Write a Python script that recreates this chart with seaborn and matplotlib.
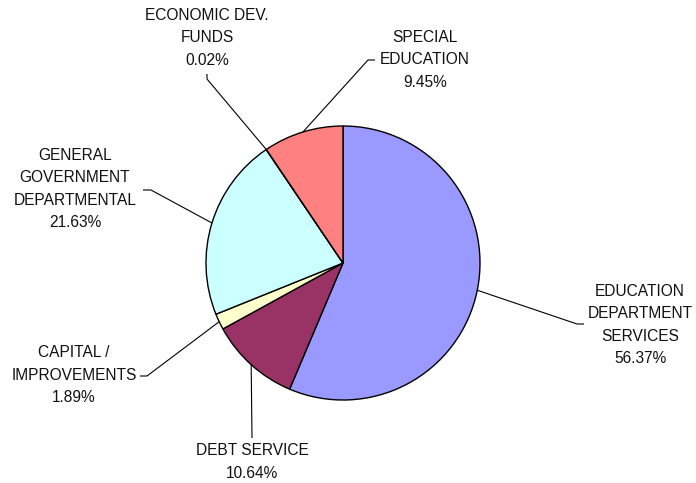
import numpy as np
import matplotlib
matplotlib.use("Agg")
import matplotlib.pyplot as plt
import seaborn as sns

# ---- data ----
categories = ["EDUCATION\nDEPARTMENT\nSERVICES", "DEBT SERVICE", "CAPITAL /\nIMPROVEMENTS",
              "GENERAL\nGOVERNMENT\nDEPARTMENTAL", "ECONOMIC DEV.\nFUNDS", "SPECIAL\nEDUCATION"]
shares = [56.37, 10.64, 1.89, 21.63, 0.02, 9.45]
colors = ["#9999FF", "#993366", "#FFFFCC", "#CCFFFF", "#3366CC", "#FF8080"]

# ---- layout (pixel space) ----
W, H = 696, 483
center = (343, 263)
radius = 137
# text center, elbow point, end of leader (all in pixels)
label_layout = [
    ((640, 325), (577, 324), (584, 324)),
    ((252, 462), (252, 438), (252, 438)),
    ((74, 375), (147, 376), (140, 376)),
    ((75, 189), (151, 190), (143, 190)),
    ((207, 38), (207, 79), (207, 74)),
    ((425, 60), (368, 60), (375, 60)),
]

sns.set_style("white")
plt.rcParams["font.family"] = ["Liberation Sans", "DejaVu Sans"]

fig = plt.figure(figsize=(W / 100, H / 100), dpi=100)
ax = fig.add_axes([0, 0, 1, 1])
ax.set_xlim(0, W)
ax.set_ylim(H, 0)
ax.set_aspect("equal")
ax.axis("off")

wedges, _ = ax.pie(shares, colors=colors, startangle=-90, counterclock=True,
                   center=center, radius=radius,
                   wedgeprops=dict(edgecolor="black", linewidth=1.0))
ax.set_xlim(0, W)
ax.set_ylim(H, 0)

for w, cat, val, (tpos, elbow, end) in zip(wedges, categories, shares, label_layout):
    mid = np.deg2rad((w.theta1 + w.theta2) / 2)
    ax_pt = (center[0] + radius * np.cos(mid), center[1] + radius * np.sin(mid))
    ax.plot([ax_pt[0], elbow[0], end[0]], [ax_pt[1], elbow[1], end[1]],
            color="black", lw=0.8, solid_capstyle="butt")
    ax.text(tpos[0], tpos[1], f"{cat}\n{val:.2f}%", ha="center", va="center",
            multialignment="center", fontsize=11.2, linespacing=1.6, color="#111111")

fig.savefig("out.png", dpi=100, facecolor="white")
